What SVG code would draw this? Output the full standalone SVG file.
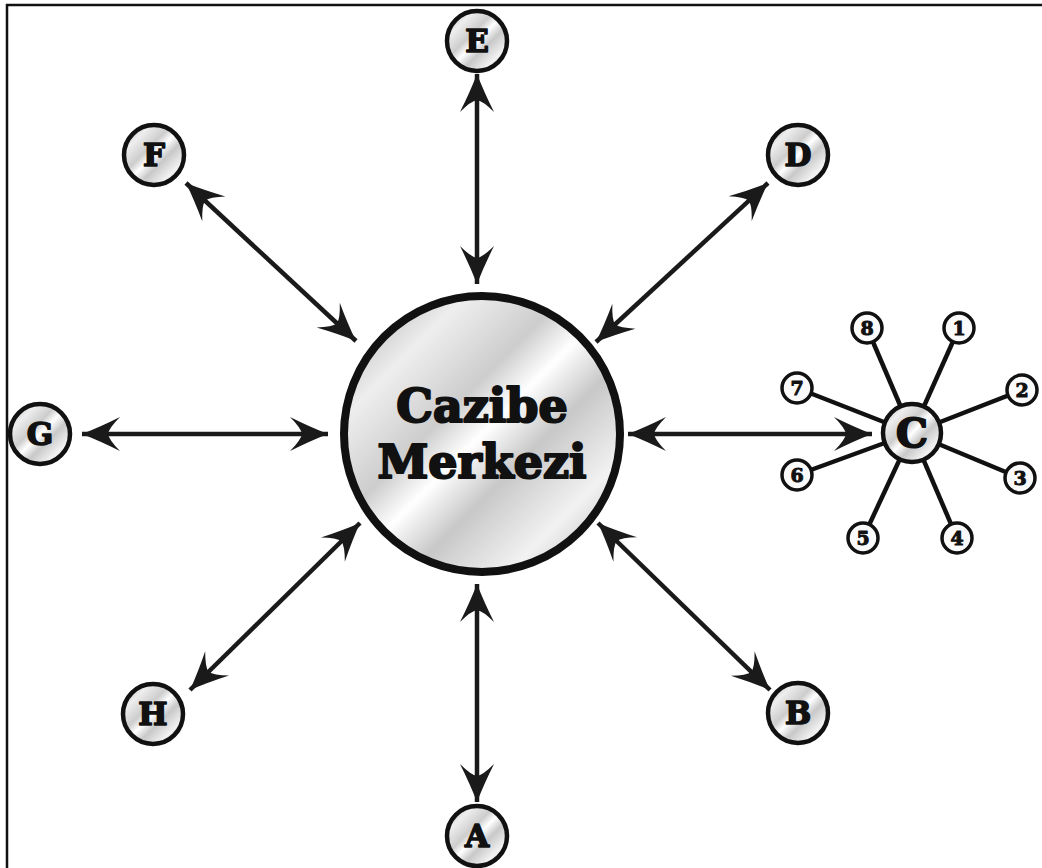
<svg xmlns="http://www.w3.org/2000/svg" width="1042" height="868" viewBox="0 0 1042 868">
<style>
.node{fill:url(#metal);stroke:#111;stroke-width:4.5}
.big{fill:url(#metal);stroke:#111;stroke-width:8}
.sat{fill:#fafafa;stroke:#111;stroke-width:3.5}
.lbl{font-family:"DejaVu Serif","Liberation Serif",serif;font-weight:bold;fill:#111;stroke:#111;stroke-linejoin:round;text-anchor:middle}
.conn{stroke:#1a1a1a;stroke-width:4.5;fill:none;marker-start:url(#ah);marker-end:url(#ah)}
.spoke{stroke:#111;stroke-width:4.5}
</style>
<defs>
<linearGradient id="metal" x1="0" y1="0" x2="1" y2="1">
<stop offset="0" stop-color="#a8a8a8"/>
<stop offset="0.22" stop-color="#eeeeee"/>
<stop offset="0.4" stop-color="#cdcdcd"/>
<stop offset="0.5" stop-color="#ffffff"/>
<stop offset="0.62" stop-color="#c8c8c8"/>
<stop offset="0.8" stop-color="#f2f2f2"/>
<stop offset="1" stop-color="#a8a8a8"/>
</linearGradient>
<marker id="ah" markerUnits="userSpaceOnUse" viewBox="-40 -20 42 40" refX="0" refY="0" markerWidth="42" markerHeight="40" orient="auto-start-reverse">
<path d="M0,0 Q-18,-7 -38,-17 Q-27,-6 -26,0 Q-27,6 -38,17 Q-18,7 0,0 Z" fill="#1a1a1a"/>
</marker>
</defs>
<path d="M7,868 V5 H1042" fill="none" stroke="#111" stroke-width="2.5"/>
<g id="connectors">
<line class="conn" x1="477" y1="74" x2="477" y2="284"/>
<line class="conn" x1="477" y1="584" x2="477" y2="802"/>
<line class="conn" x1="82" y1="434" x2="328" y2="434"/>
<line class="conn" x1="628" y1="434" x2="872" y2="434"/>
<line class="conn" x1="186" y1="183" x2="356" y2="341"/>
<line class="conn" x1="768" y1="183" x2="596" y2="342"/>
<line class="conn" x1="190" y1="690" x2="360" y2="523"/>
<line class="conn" x1="598" y1="523" x2="770" y2="690"/>
<line class="spoke" x1="912" y1="433" x2="867" y2="328"/>
<line class="spoke" x1="912" y1="433" x2="959" y2="328"/>
<line class="spoke" x1="912" y1="433" x2="797" y2="388"/>
<line class="spoke" x1="912" y1="433" x2="1022" y2="390"/>
<line class="spoke" x1="912" y1="433" x2="797" y2="475"/>
<line class="spoke" x1="912" y1="433" x2="1020" y2="478"/>
<line class="spoke" x1="912" y1="433" x2="863" y2="538"/>
<line class="spoke" x1="912" y1="433" x2="957" y2="538"/>
</g>
<g id="center">
<circle class="big" cx="482" cy="434" r="138"/>
<text class="lbl" x="482" y="422" font-size="46" stroke-width="2.2">Cazibe</text>
<text class="lbl" x="482" y="478" font-size="46" stroke-width="2.2">Merkezi</text>
</g>
<g id="nodeE"><circle class="node" cx="477" cy="41" r="30"/><text class="lbl" x="477" y="52" font-size="31" stroke-width="1.6">E</text></g>
<g id="nodeF"><circle class="node" cx="154" cy="155" r="30"/><text class="lbl" x="154" y="166" font-size="31" stroke-width="1.6">F</text></g>
<g id="nodeD"><circle class="node" cx="798" cy="155" r="30"/><text class="lbl" x="798" y="166" font-size="31" stroke-width="1.6">D</text></g>
<g id="nodeG"><circle class="node" cx="40" cy="434" r="30"/><text class="lbl" x="40" y="445" font-size="31" stroke-width="1.6">G</text></g>
<g id="nodeH"><circle class="node" cx="153" cy="714" r="30"/><text class="lbl" x="153" y="725" font-size="31" stroke-width="1.6">H</text></g>
<g id="nodeB"><circle class="node" cx="798" cy="713" r="30"/><text class="lbl" x="798" y="724" font-size="31" stroke-width="1.6">B</text></g>
<g id="nodeA"><circle class="node" cx="477" cy="836" r="30"/><text class="lbl" x="477" y="847" font-size="31" stroke-width="1.6">A</text></g>
<g id="nodeC"><circle class="node" cx="912" cy="433" r="29"/><text class="lbl" x="912" y="447" font-size="40" stroke-width="2">C</text></g>
<g id="s1"><circle class="sat" cx="959" cy="328" r="15"/><text class="lbl" x="959" y="335" font-size="19" stroke-width="1">1</text></g>
<g id="s2"><circle class="sat" cx="1022" cy="390" r="15"/><text class="lbl" x="1022" y="397" font-size="19" stroke-width="1">2</text></g>
<g id="s3"><circle class="sat" cx="1020" cy="478" r="15"/><text class="lbl" x="1020" y="485" font-size="19" stroke-width="1">3</text></g>
<g id="s4"><circle class="sat" cx="957" cy="538" r="15"/><text class="lbl" x="957" y="545" font-size="19" stroke-width="1">4</text></g>
<g id="s5"><circle class="sat" cx="863" cy="538" r="15"/><text class="lbl" x="863" y="545" font-size="19" stroke-width="1">5</text></g>
<g id="s6"><circle class="sat" cx="797" cy="475" r="15"/><text class="lbl" x="797" y="482" font-size="19" stroke-width="1">6</text></g>
<g id="s7"><circle class="sat" cx="797" cy="388" r="15"/><text class="lbl" x="797" y="395" font-size="19" stroke-width="1">7</text></g>
<g id="s8"><circle class="sat" cx="867" cy="328" r="15"/><text class="lbl" x="867" y="335" font-size="19" stroke-width="1">8</text></g>
</svg>
